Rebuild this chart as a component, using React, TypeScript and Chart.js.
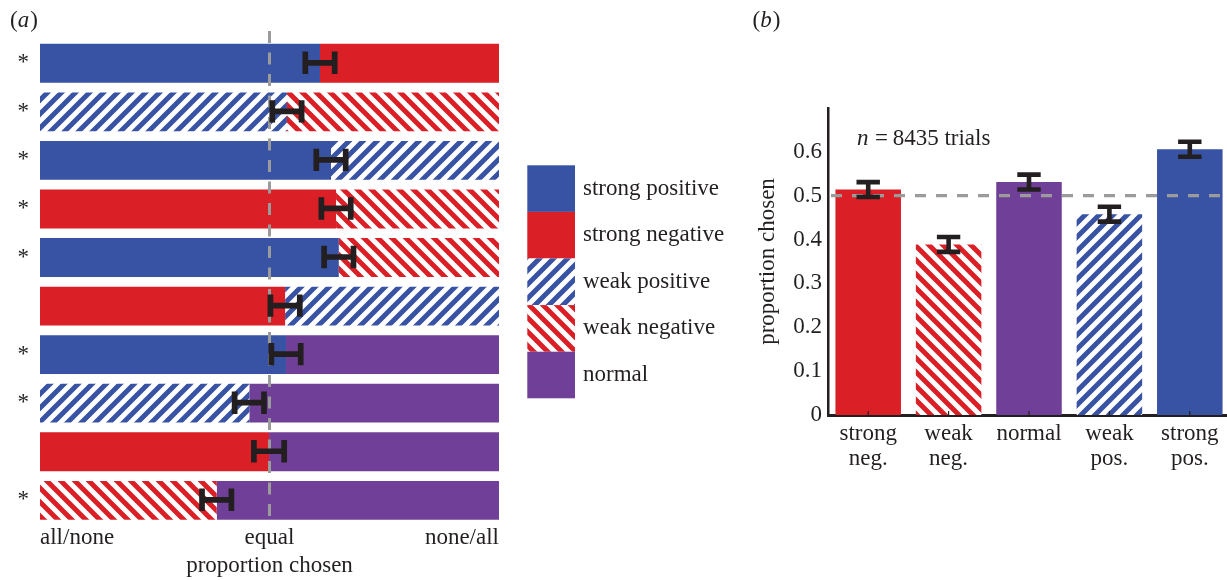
import React, { useEffect, useRef } from 'react';
import { Chart, registerables } from 'chart.js';

Chart.register(...registerables);

// ---------- colours & fonts ----------
const BLUE = '#3953A4';
const RED = '#DA1F26';
const PURPLE = '#703F97';
const INK = '#231F20';
const DASH = '#9B9B9B';
const FONT = '"Liberation Serif", "Times New Roman", serif';

// ---------- panel (a): paired choices ----------
const PAIR_LEFT = [
  'strong positive', 'weak positive', 'strong positive', 'strong negative', 'strong positive',
  'strong negative', 'strong positive', 'weak positive', 'strong negative', 'weak negative',
];
const PAIR_RIGHT = [
  'strong negative', 'weak negative', 'weak positive', 'weak negative', 'weak negative',
  'weak positive', 'normal', 'normal', 'normal', 'normal',
];
const LEFT_PROPORTION = [0.610, 0.538, 0.634, 0.645, 0.651, 0.534, 0.536, 0.456, 0.499, 0.385];
const RIGHT_PROPORTION = [0.390, 0.462, 0.366, 0.355, 0.349, 0.466, 0.464, 0.544, 0.501, 0.615];
const PAIR_ERROR = [0.032, 0.032, 0.032, 0.032, 0.032, 0.032, 0.032, 0.032, 0.033, 0.032];
const PAIR_SIGNIFICANT = ['*', '*', '*', '*', '*', '', '*', '*', '', '*'];
const AXIS_A_TICKS = ['all/none', 'equal', 'none/all'];
const LEGEND_TYPES = ['strong positive', 'strong negative', 'weak positive', 'weak negative', 'normal'];

// ---------- panel (b): proportion chosen per type ----------
const TYPE_KEYS = ['strong negative', 'weak negative', 'normal', 'weak positive', 'strong positive'];
const TYPE_LABELS = [['strong', 'neg.'], ['weak', 'neg.'], ['normal'], ['weak', 'pos.'], ['strong', 'pos.']];
const TYPE_PROPORTION = [0.514, 0.389, 0.531, 0.458, 0.606];
const TYPE_ERROR = [0.017, 0.017, 0.017, 0.017, 0.017];
const N_TRIALS = 8435;
const CHANCE = 0.5;

function makeHatch(color: string, dir: 'up' | 'down'): CanvasPattern {
  const s = 14;
  const c = document.createElement('canvas');
  c.width = s;
  c.height = s;
  const g = c.getContext('2d')!;
  g.fillStyle = '#ffffff';
  g.fillRect(0, 0, s, s);
  g.strokeStyle = color;
  g.lineWidth = 5;
  g.beginPath();
  for (const o of [-s, 0, s]) {
    if (dir === 'up') {
      g.moveTo(o - 3, s + 3);
      g.lineTo(o + s + 3, -3);
    } else {
      g.moveTo(o - 3, -3);
      g.lineTo(o + s + 3, s + 3);
    }
  }
  g.stroke();
  return g.createPattern(c, 'repeat')!;
}

function drawPanelLabel(ctx: CanvasRenderingContext2D, letter: string, x: number, y: number) {
  ctx.save();
  ctx.fillStyle = INK;
  ctx.textBaseline = 'middle';
  ctx.textAlign = 'left';
  ctx.font = `23px ${FONT}`;
  ctx.fillText('(', x, y);
  let cx = x + ctx.measureText('(').width;
  ctx.font = `italic 23px ${FONT}`;
  ctx.fillText(letter, cx, y);
  cx += ctx.measureText(letter).width + 1;
  ctx.font = `23px ${FONT}`;
  ctx.fillText(')', cx, y);
  ctx.restore();
}

export default function App() {
  const aRef = useRef<HTMLCanvasElement>(null);
  const bRef = useRef<HTMLCanvasElement>(null);

  useEffect(() => {
    const hatchBlue = makeHatch(BLUE, 'up');
    const hatchRed = makeHatch(RED, 'down');
    const fillOf = (t: string): string | CanvasPattern =>
      ({
        'strong positive': BLUE,
        'strong negative': RED,
        'weak positive': hatchBlue,
        'weak negative': hatchRed,
        normal: PURPLE,
      } as Record<string, string | CanvasPattern>)[t];

    const tickFont = { family: FONT, size: 23 };

    const panelAPlugin = {
      id: 'panelA',
      afterDatasetsDraw(chart: any) {
        const { ctx, chartArea } = chart;
        const x = chart.scales.x;
        const y = chart.scales.y;
        ctx.save();
        // chance line
        const xm = x.getPixelForValue(CHANCE);
        ctx.strokeStyle = DASH;
        ctx.lineWidth = 3;
        ctx.setLineDash([12, 9.5]);
        ctx.beginPath();
        ctx.moveTo(xm, chartArea.top - 8);
        ctx.lineTo(xm, chartArea.bottom - 1);
        ctx.stroke();
        ctx.setLineDash([]);
        // error bars
        ctx.strokeStyle = INK;
        ctx.lineWidth = 5.7;
        LEFT_PROPORTION.forEach((p, i) => {
          const yc = y.getPixelForValue(i) - 0.5;
          const x0 = x.getPixelForValue(p - PAIR_ERROR[i]);
          const x1 = x.getPixelForValue(p + PAIR_ERROR[i]);
          ctx.beginPath();
          ctx.moveTo(x0, yc);
          ctx.lineTo(x1, yc);
          ctx.moveTo(x0, yc - 11.2);
          ctx.lineTo(x0, yc + 11.2);
          ctx.moveTo(x1, yc - 11.2);
          ctx.lineTo(x1, yc + 11.2);
          ctx.stroke();
        });
        // legend
        const boxW = 47.7;
        const boxH = 46.6;
        const lx = chartArea.right + 28.3;
        const midY = (chartArea.top + chartArea.bottom) / 2;
        const ly = midY - (LEGEND_TYPES.length * boxH) / 2;
        ctx.font = `23px ${FONT}`;
        ctx.textBaseline = 'middle';
        ctx.textAlign = 'left';
        LEGEND_TYPES.forEach((t, i) => {
          ctx.fillStyle = fillOf(t);
          ctx.fillRect(lx, ly + i * boxH, boxW, boxH);
          ctx.fillStyle = INK;
          ctx.fillText(t, lx + 55.7, ly + i * boxH + boxH / 2);
        });
        ctx.restore();
        drawPanelLabel(ctx, 'a', 10, 21);
      },
    };

    const ca = new Chart(aRef.current!, {
      type: 'bar',
      data: {
        labels: PAIR_LEFT.map((l, i) => `${l} vs ${PAIR_RIGHT[i]}`),
        datasets: [
          {
            label: 'left',
            data: LEFT_PROPORTION,
            backgroundColor: PAIR_LEFT.map(fillOf) as any,
            borderWidth: 0,
            categoryPercentage: 0.8,
            barPercentage: 1,
          },
          {
            label: 'right',
            data: RIGHT_PROPORTION,
            backgroundColor: PAIR_RIGHT.map(fillOf) as any,
            borderWidth: 0,
            categoryPercentage: 0.8,
            barPercentage: 1,
          },
        ],
      },
      options: {
        indexAxis: 'y',
        responsive: false,
        animation: false,
        layout: { padding: { top: 39, right: 241, left: 0, bottom: 0 } },
        plugins: { legend: { display: false }, tooltip: { enabled: false } },
        scales: {
          x: {
            stacked: true,
            min: 0,
            max: 1,
            grid: { display: false, drawTicks: false },
            border: { display: false },
            ticks: {
              stepSize: 0.5,
              align: 'inner',
              maxRotation: 0,
              autoSkip: false,
              padding: 0,
              color: INK,
              font: tickFont,
              callback: (_v: any, i: number) => AXIS_A_TICKS[i],
            },
            title: {
              display: true,
              text: 'proportion chosen',
              color: INK,
              font: tickFont,
              padding: { top: 0, bottom: 0 },
            },
            afterFit: (s: any) => {
              s.height = 55.4;
            },
          },
          y: {
            stacked: true,
            grid: { display: false, drawTicks: false },
            border: { display: false },
            ticks: {
              padding: 11,
              color: INK,
              font: tickFont,
              callback: (_v: any, i: number) => PAIR_SIGNIFICANT[i],
            },
            afterFit: (s: any) => {
              s.width = 40;
            },
          },
        },
      } as any,
      plugins: [panelAPlugin],
    });

    const panelBPlugin = {
      id: 'panelB',
      afterDatasetsDraw(chart: any) {
        const { ctx, chartArea } = chart;
        const x = chart.scales.x;
        const y = chart.scales.y;
        ctx.save();
        // chance line
        const ym = y.getPixelForValue(CHANCE);
        ctx.strokeStyle = DASH;
        ctx.lineWidth = 3.3;
        ctx.setLineDash([11, 10]);
        ctx.beginPath();
        ctx.moveTo(chartArea.left + 3, ym);
        ctx.lineTo(chartArea.right, ym);
        ctx.stroke();
        ctx.setLineDash([]);
        // small inward tick marks
        ctx.strokeStyle = INK;
        ctx.lineWidth = 1.2;
        TYPE_PROPORTION.forEach((_v, i) => {
          const xc = x.getPixelForValue(i);
          ctx.beginPath();
          ctx.moveTo(xc, chartArea.bottom);
          ctx.lineTo(xc, chartArea.bottom - 4);
          ctx.stroke();
        });
        // error bars
        ctx.lineWidth = 4.6;
        TYPE_PROPORTION.forEach((v, i) => {
          const xc = x.getPixelForValue(i);
          const y0 = y.getPixelForValue(v + TYPE_ERROR[i]);
          const y1 = y.getPixelForValue(v - TYPE_ERROR[i]);
          ctx.beginPath();
          ctx.moveTo(xc, y0);
          ctx.lineTo(xc, y1);
          ctx.moveTo(xc - 11.7, y0);
          ctx.lineTo(xc + 11.7, y0);
          ctx.moveTo(xc - 11.7, y1);
          ctx.lineTo(xc + 11.7, y1);
          ctx.stroke();
        });
        // n annotation
        ctx.fillStyle = INK;
        ctx.textBaseline = 'middle';
        ctx.textAlign = 'left';
        const tx = chartArea.left + 29;
        const ty = chartArea.top + 31;
        ctx.font = `italic 23px ${FONT}`;
        ctx.fillText('n', tx, ty);
        const nw = ctx.measureText('n').width;
        ctx.font = `23px ${FONT}`;
        ctx.fillText(`\u2009=\u2009${N_TRIALS} trials`, tx + nw + 2, ty);
        ctx.restore();
        drawPanelLabel(ctx, 'b', 12.5, 21);
      },
    };

    const cb = new Chart(bRef.current!, {
      type: 'bar',
      data: {
        labels: TYPE_LABELS as any,
        datasets: [
          {
            label: 'proportion chosen',
            data: TYPE_PROPORTION,
            backgroundColor: TYPE_KEYS.map(fillOf) as any,
            borderWidth: 0,
            categoryPercentage: 1,
            barPercentage: 0.815,
          },
        ],
      },
      options: {
        responsive: false,
        animation: false,
        layout: { padding: { top: 108, right: 0, left: 0, bottom: 0 } },
        plugins: { legend: { display: false }, tooltip: { enabled: false } },
        scales: {
          x: {
            grid: { display: false, drawTicks: false },
            border: { display: true, width: 3, color: INK },
            ticks: {
              padding: 6,
              color: INK,
              maxRotation: 0,
              autoSkip: false,
              font: { family: FONT, size: 23, lineHeight: 1.1 },
            },
            afterFit: (s: any) => {
              s.height = 165;
            },
          },
          y: {
            min: 0,
            max: 0.7,
            grid: { display: false, drawTicks: false },
            border: { display: true, width: 2.5, color: INK },
            ticks: {
              stepSize: 0.1,
              padding: 6,
              color: INK,
              font: tickFont,
              callback: (v: any) => {
                const n = Number(v);
                if (n > 0.65) return '';
                return n === 0 ? '0' : n.toFixed(1);
              },
            },
            title: {
              display: true,
              text: 'proportion chosen',
              color: INK,
              font: tickFont,
              padding: { top: 14, bottom: 0 },
            },
            afterFit: (s: any) => {
              s.width = 88;
            },
          },
        },
      } as any,
      plugins: [panelBPlugin],
    });

    return () => {
      ca.destroy();
      cb.destroy();
    };
  }, []);

  return (
    <div
      style={{
        position: 'absolute',
        left: 0,
        top: 0,
        width: 1227,
        height: 580,
        overflow: 'hidden',
        background: '#ffffff',
      }}
    >
      <canvas ref={aRef} width={740} height={580} style={{ position: 'absolute', left: 0, top: 0 }} />
      <canvas ref={bRef} width={490} height={580} style={{ position: 'absolute', left: 740, top: 0 }} />
    </div>
  );
}
